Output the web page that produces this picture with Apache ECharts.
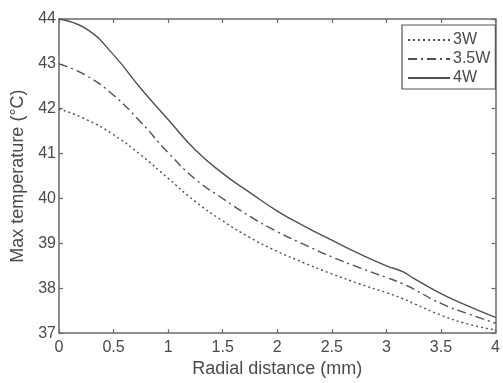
<!DOCTYPE html>
<html>
<head>
<meta charset="utf-8">
<script src="https://cdn.jsdelivr.net/npm/echarts@6/dist/echarts.min.js"></script>
<style>
html,body{margin:0;padding:0;background:#fff;}
#chart{width:503px;height:383px;}
</style>
</head>
<body>
<div id="chart"></div>
<script>
// Radial distance (mm)
var radialDistance = [0, 0.25, 0.5, 0.75, 1, 1.25, 1.5, 1.75, 2, 2.25, 2.5, 2.75, 3, 3.15, 3.25, 3.5, 3.75, 4];
// Max temperature (°C)
var temp3W  = [42.0, 41.76, 41.42, 40.97, 40.45, 39.93, 39.5, 39.13, 38.82, 38.56, 38.32, 38.1, 37.9, 37.77, 37.66, 37.4, 37.2, 37.07];
var temp35W = [43.0, 42.74, 42.3, 41.7, 41.02, 40.43, 40.0, 39.6, 39.26, 38.97, 38.7, 38.46, 38.24, 38.1, 37.98, 37.66, 37.43, 37.22];
var temp4W  = [44.0, 43.78, 43.2, 42.45, 41.76, 41.08, 40.56, 40.13, 39.72, 39.38, 39.07, 38.77, 38.5, 38.37, 38.22, 37.88, 37.6, 37.35];
var seriesNames = ['3W', '3.5W', '4W'];
var xTitle = 'Radial distance (mm)';
var yTitle = 'Max temperature (\u00B0C)';

function pairs(xs, ys) { return xs.map(function (x, i) { return [x, ys[i]]; }); }

var FONT = 'Liberation Sans, Arial, sans-serif';
var AX = '#6a6a6a';
var LINE = '#505050';
var TXT = '#4a4a4a';

var chart = echarts.init(document.getElementById('chart'), null, {renderer: 'canvas'});
var axisCommon = {
  type: 'value',
  axisLine: {show: true, onZero: false, lineStyle: {color: AX, width: 1.5}},
  axisTick: {show: true, inside: true, length: 4, lineStyle: {color: AX, width: 1.2}},
  splitLine: {show: false}
};
chart.setOption({
  backgroundColor: '#ffffff',
  animation: false,
  grid: {left: 59, right: 1, top: 19, bottom: 42, containLabel: false},
  legend: {
    orient: 'vertical',
    left: 402, top: 25,
    width: 95,
    padding: [7, 5, 3, 5],
    borderColor: '#555', borderWidth: 1.2,
    backgroundColor: '#fff',
    itemWidth: 42, itemHeight: 12, itemGap: 3,
    align: 'left',
    itemStyle: {opacity: 0},
    textStyle: {fontFamily: FONT, fontSize: 16, color: TXT, padding: [0,0,0,-2]},
    data: seriesNames
  },
  xAxis: [
    Object.assign({}, axisCommon, {
      min: 0, max: 4, interval: 0.5, position: 'bottom',
      name: xTitle, nameLocation: 'middle', nameGap: 24,
      nameTextStyle: {fontFamily: FONT, fontSize: 18, color: TXT},
      axisLabel: {fontFamily: FONT, fontSize: 16, color: TXT, margin: 6}
    }),
    Object.assign({}, axisCommon, {
      min: 0, max: 4, interval: 0.5, position: 'top',
      axisLabel: {show: false}
    })
  ],
  yAxis: [
    Object.assign({}, axisCommon, {
      min: 37, max: 44, interval: 1, position: 'left',
      name: yTitle, nameLocation: 'middle', nameGap: 28,
      nameTextStyle: {fontFamily: FONT, fontSize: 18, color: TXT},
      axisLabel: {fontFamily: FONT, fontSize: 16, color: TXT, margin: 3}
    }),
    Object.assign({}, axisCommon, {
      min: 37, max: 44, interval: 1, position: 'right',
      axisLabel: {show: false}
    })
  ],
  series: [
    {name: seriesNames[0], type: 'line', data: pairs(radialDistance, temp3W), smooth: 0.5, symbol: 'none',
     lineStyle: {color: LINE, width: 1.4, type: [2, 3]}, itemStyle: {color: LINE}},
    {name: seriesNames[1], type: 'line', data: pairs(radialDistance, temp35W), smooth: 0.5, symbol: 'none',
     lineStyle: {color: LINE, width: 1.4, type: [9, 4, 2, 4]}, itemStyle: {color: LINE}},
    {name: seriesNames[2], type: 'line', data: pairs(radialDistance, temp4W), smooth: 0.5, symbol: 'none',
     lineStyle: {color: LINE, width: 1.4, type: 'solid'}, itemStyle: {color: LINE}}
  ]
});
</script>
</body>
</html>
